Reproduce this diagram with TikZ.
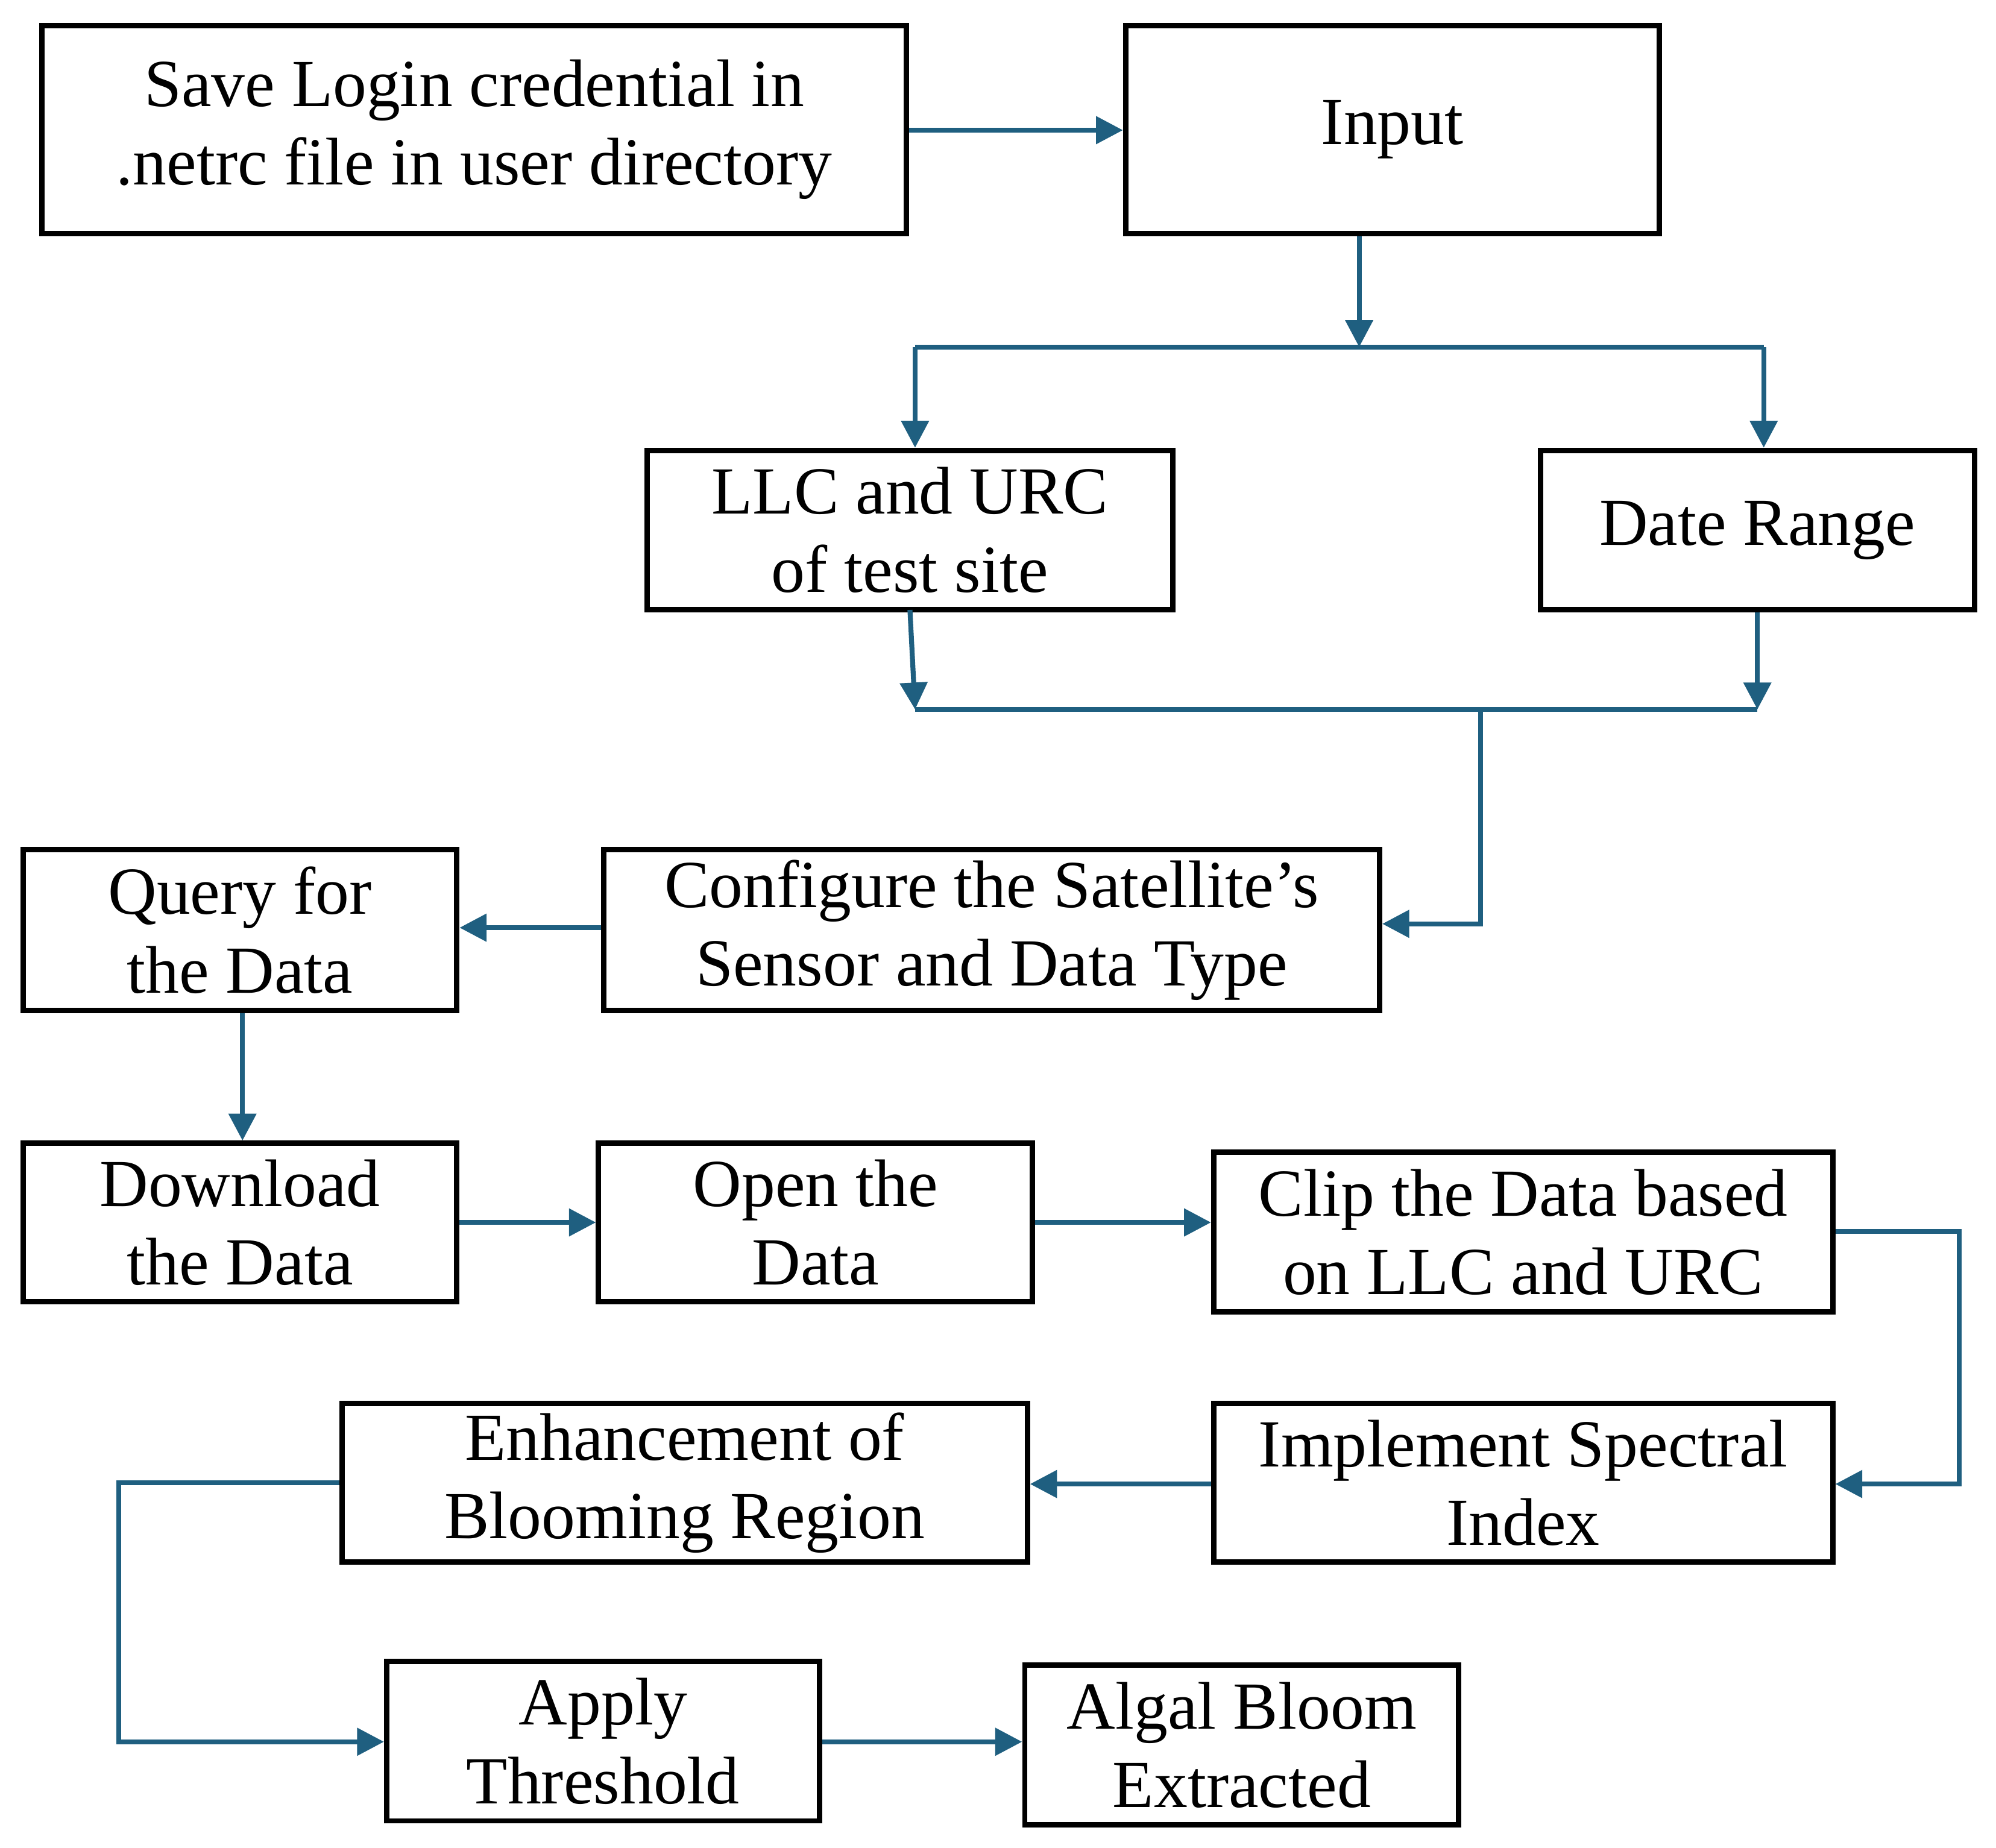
\documentclass[tikz,border=0pt]{standalone}
\usepackage{fontspec}
\setmainfont{Liberation Serif}
\usetikzlibrary{arrows.meta,calc}
\definecolor{conn}{HTML}{1F5F80}
\begin{document}
\begin{tikzpicture}[x=0.01cm,y=-0.01cm,
  box/.style={draw=black,line width=1.2pt,inner sep=0pt,align=center,
    font=\fontsize{15pt}{17.5pt}\selectfont},
  ln/.style={draw=conn,line width=1.1pt},
  ar/.style={ln,-{Triangle[length=6pt,width=6pt]}}]
\useasboundingbox (0,0) rectangle (1564,1448);
\newcommand{\bx}[6]{\node[box,minimum width={(#4-#2)*0.01cm},minimum height={(#5-#3)*0.01cm}] (#1) at ({(#2+#4)/2},{(#3+#5)/2}) {#6};}
\bx{save}{33}{20}{710}{183}{Save Login credential in\\.netrc file in user directory}
\bx{input}{882}{20}{1300}{183}{Input}
\bx{llc}{507}{353}{919}{478}{LLC and URC\\of test site}
\bx{date}{1207}{353}{1547}{478}{Date Range}
\bx{query}{18}{666}{358}{792}{Query for\\the Data}
\bx{config}{473}{666}{1081}{792}{Configure the Satellite's\\Sensor and Data Type}
\bx{down}{18}{896}{358}{1020}{Download\\the Data}
\bx{open}{469}{896}{809}{1020}{Open the\\Data}
\bx{clip}{951}{903}{1436}{1028}{Clip the Data based\\on LLC and URC}
\bx{impl}{951}{1100}{1436}{1224}{Implement Spectral\\Index}
\bx{enh}{268}{1100}{805}{1224}{Enhancement of\\Blooming Region}
\bx{apply}{303}{1302}{642}{1427}{Apply\\Threshold}
\bx{algal}{803}{1305}{1143}{1430}{Algal Bloom\\Extracted}
\coordinate (s1) at (1065,272);
\coordinate (sl) at (717,272);
\coordinate (sr) at (1382,272);
\coordinate (jl) at (717,556);
\coordinate (jr) at (1377,556);
\coordinate (jm) at (1160,556);
\draw[ar] (save.east|-0,102) -- (input.west|-0,102);
\draw[ar] (input.south-|s1) -- (s1);
\draw[ln] (sl) -- (sr);
\draw[ar] (sl) -- (sl|-llc.north);
\draw[ar] (sr) -- (sr|-date.north);
\draw[ar] (713,478) -- (jl);
\draw[ar] (date.south-|jr) -- (jr);
\draw[ln] (jl) -- (jr);
\draw[ar] (jm) -- (1160,724) -- (config.east|-0,724);
\draw[ar] (config.west|-0,727) -- (query.east|-0,727);
\draw[ar] (query.south-|190,0) -- (down.north-|190,0);
\draw[ar] (down.east|-0,958) -- (open.west|-0,958);
\draw[ar] (open.east|-0,958) -- (clip.west|-0,958);
\draw[ar] (clip.east|-0,965) -- (1535,965) -- (1535,1163) -- (impl.east|-0,1163);
\draw[ar] (impl.west|-0,1163) -- (enh.east|-0,1163);
\draw[ar] (enh.west|-0,1162) -- (93,1162) -- (93,1365) -- (apply.west|-0,1365);
\draw[ar] (apply.east|-0,1365) -- (algal.west|-0,1365);
\end{tikzpicture}
\end{document}
